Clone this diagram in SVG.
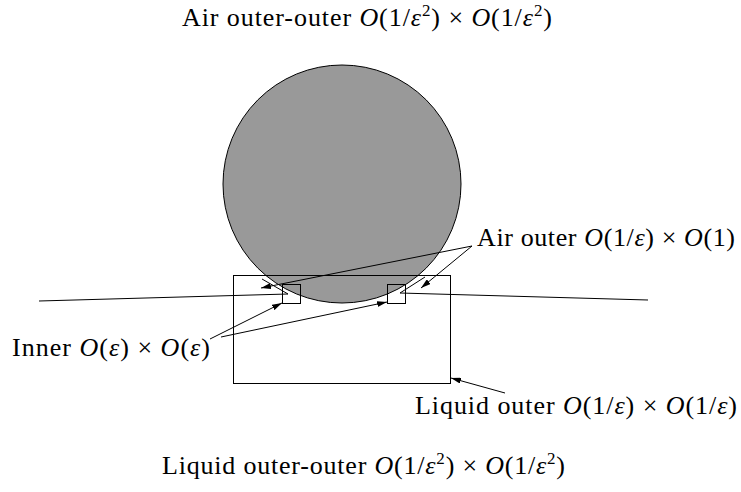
<svg xmlns="http://www.w3.org/2000/svg" width="741" height="492" viewBox="0 0 741 492">
<style>
text{font-family:"Liberation Serif","Times New Roman",serif;font-size:26px;fill:#000}
.i{font-style:italic}
.s{font-size:17px}
.ln{fill:none;stroke:#000;stroke-width:1}
.ar{fill:none;stroke:#000;stroke-width:1;marker-end:url(#ah)}
</style>
<defs>
<marker id="ah" viewBox="0 0 10 6" refX="10" refY="3" markerWidth="10" markerHeight="6" markerUnits="userSpaceOnUse" orient="auto"><path d="M0,0 L10,3 L0,6 z" fill="#000"/></marker>
</defs>
<rect width="741" height="492" fill="#fff"/>
<g id="drop"><circle cx="342" cy="184" r="119" fill="#999" stroke="#000" stroke-width="1"/></g>
<g id="free-surface">
<polyline class="ln" points="39,301 288,294 262,279"/>
<polyline class="ln" points="648,300 400,293 425,277"/>
</g>
<g id="liquid-outer"><rect class="ln" x="233.5" y="275.5" width="217" height="108"/>
<text x="415" y="414" textLength="322" lengthAdjust="spacing">Liquid outer <tspan class="i">O</tspan>(1/<tspan class="i">ε</tspan>) × <tspan class="i">O</tspan>(1/<tspan class="i">ε</tspan>)</text></g>
<g id="inner-left"><rect class="ln" x="282.5" y="284.5" width="18" height="19"/></g>
<g id="inner-right"><rect class="ln" x="387.5" y="284.5" width="18" height="19"/></g>
<g id="inner-label"><text x="12" y="356" textLength="198" lengthAdjust="spacing">Inner <tspan class="i">O</tspan>(<tspan class="i">ε</tspan>) × <tspan class="i">O</tspan>(<tspan class="i">ε</tspan>)</text></g>
<g id="air-outer-label"><text x="477" y="246" textLength="258" lengthAdjust="spacing">Air outer <tspan class="i">O</tspan>(1/<tspan class="i">ε</tspan>) × <tspan class="i">O</tspan>(1)</text></g>
<g id="air-outer-outer"><text x="182" y="26" textLength="370" lengthAdjust="spacing">Air outer-outer <tspan class="i">O</tspan>(1/<tspan class="i">ε</tspan><tspan class="s" dy="-10">2</tspan><tspan dy="10">) × </tspan><tspan class="i">O</tspan>(1/<tspan class="i">ε</tspan><tspan class="s" dy="-10">2</tspan><tspan dy="10">)</tspan></text></g>
<g id="liquid-outer-outer"><text x="162" y="474" textLength="403" lengthAdjust="spacing">Liquid outer-outer <tspan class="i">O</tspan>(1/<tspan class="i">ε</tspan><tspan class="s" dy="-10">2</tspan><tspan dy="10">) × </tspan><tspan class="i">O</tspan>(1/<tspan class="i">ε</tspan><tspan class="s" dy="-10">2</tspan><tspan dy="10">)</tspan></text></g>
<g id="connectors">
<line class="ar" x1="472" y1="246" x2="261" y2="288"/>
<line class="ar" x1="472" y1="246" x2="421" y2="288"/>
<line class="ar" x1="210" y1="339" x2="282" y2="303"/>
<line class="ar" x1="221" y1="337" x2="387" y2="302"/>
<line class="ar" x1="505" y1="393" x2="451" y2="378"/>
</g>
</svg>
